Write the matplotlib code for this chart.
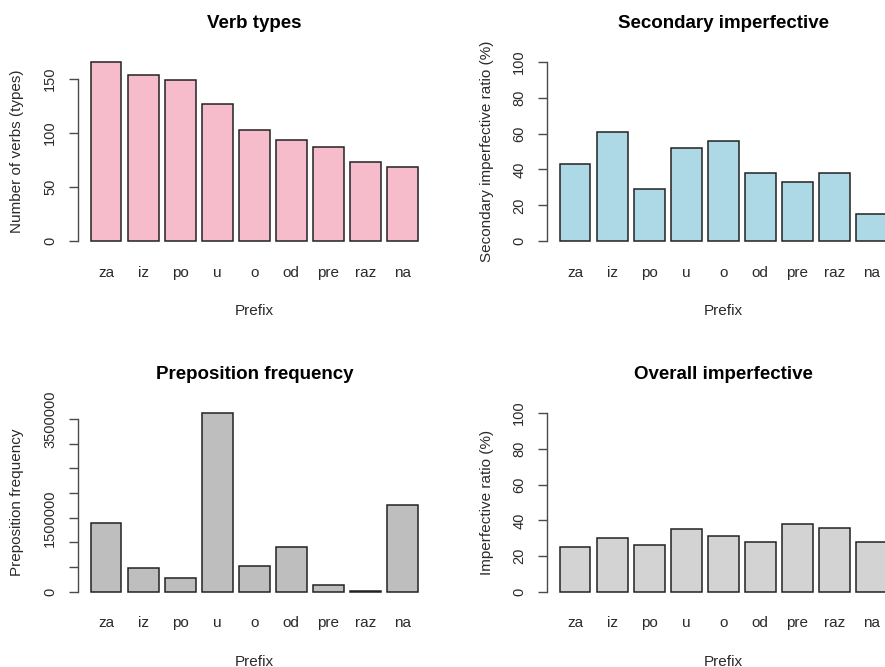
import matplotlib
matplotlib.use("Agg")
import matplotlib.pyplot as plt
import numpy as np

plt.rcParams['font.family'] = ['Liberation Sans', 'DejaVu Sans']

prefixes = ["za", "iz", "po", "u", "o", "od", "pre", "raz", "na"]
verb_types = [166, 154, 149, 127, 103, 94, 87, 73, 69]
secondary_ratio = [43, 61, 29, 52, 56, 38, 33, 38, 15]
prep_freq = [1390000, 480000, 290000, 3620000, 520000, 900000, 130000, 10000, 1755000]
overall_ratio = [25, 30, 26, 35, 31, 28, 38, 36, 28]

W, H = 885, 667
fig = plt.figure(figsize=(W / 100, H / 100), dpi=100)
fig.patch.set_facecolor("white")

AX_COL = "#4a4a4a"
TXT_COL = "#2a2a2a"

def px_axes(x0, x1, y0, y1):
    return fig.add_axes([x0 / W, 1 - y1 / H, (x1 - x0) / W, (y1 - y0) / H])

panels = [
    dict(pos=(77.5, 431, 54.5, 248.5), vals=verb_types, color="#F7BCCB",
         title="Verb types", ylabel="Number of verbs (types)",
         ylim=(-0.04 * max(verb_types), 1.04 * max(verb_types)),
         ticks=[0, 50, 100, 150], labels=["0", "50", "100", "150"]),
    dict(pos=(546.5, 900, 54.5, 248.5), vals=secondary_ratio, color="#ADD8E6",
         title="Secondary imperfective", ylabel="Secondary imperfective ratio (%)",
         ylim=(-4, 104),
         ticks=[0, 20, 40, 60, 80, 100], labels=["0", "20", "40", "60", "80", "100"]),
    dict(pos=(77.5, 431, 406, 599), vals=prep_freq, color="#BEBEBE",
         title="Preposition frequency", ylabel="Preposition frequency",
         ylim=(-0.04 * max(prep_freq), 1.04 * max(prep_freq)),
         ticks=[0, 500000, 1000000, 1500000, 2000000, 2500000, 3000000, 3500000],
         labels=["0", "", "", "1500000", "", "", "", "3500000"]),
    dict(pos=(546.5, 900, 406, 599), vals=overall_ratio, color="#D3D3D3",
         title="Overall imperfective", ylabel="Imperfective ratio (%)",
         ylim=(-4, 104),
         ticks=[0, 20, 40, 60, 80, 100], labels=["0", "20", "40", "60", "80", "100"]),
]

centers = 0.7 + 1.2 * np.arange(len(prefixes))

for p in panels:
    x0, x1, y0, y1 = p["pos"]
    ax = px_axes(x0, x1, y0, y1)
    ax.set_facecolor("none")
    ax.bar(centers, p["vals"], width=1.0, color=p["color"],
           edgecolor="#222222", linewidth=1.1)
    ax.set_xlim(0.2 - 0.424, 10.8 + 0.424)
    ax.set_ylim(*p["ylim"])
    for s in ["top", "right", "bottom"]:
        ax.spines[s].set_visible(False)
    ax.spines["left"].set_color(AX_COL)
    ax.spines["left"].set_linewidth(1.0)
    ax.spines["left"].set_bounds(p["ticks"][0], p["ticks"][-1])
    ax.set_yticks(p["ticks"])
    ax.set_yticklabels(p["labels"], rotation=90, va="center", ha="right",
                       fontsize=10.5, color=TXT_COL)
    ax.tick_params(axis="y", direction="out", length=6.5, width=1.0,
                   color=AX_COL, pad=8)
    ax.set_xticks(centers)
    ax.set_xticklabels(prefixes, fontsize=11, color=TXT_COL)
    ax.tick_params(axis="x", length=0, pad=12.5)
    xc = (x0 + min(x1, 900)) / 2
    fig.text(xc / W, 1 - (y0 - 31.5) / H, p["title"], ha="center", va="center",
             fontsize=13.5, fontweight="bold", color="black")
    fig.text(xc / W, 1 - (y1 + 62.5) / H, "Prefix", ha="center", va="center",
             fontsize=11, color=TXT_COL)
    fig.text((x0 - 60) / W, 1 - ((y0 + y1) / 2) / H, p["ylabel"], ha="center",
             va="center", rotation=90, fontsize=11, color=TXT_COL)

fig.savefig("out.png", dpi=100, facecolor="white")
